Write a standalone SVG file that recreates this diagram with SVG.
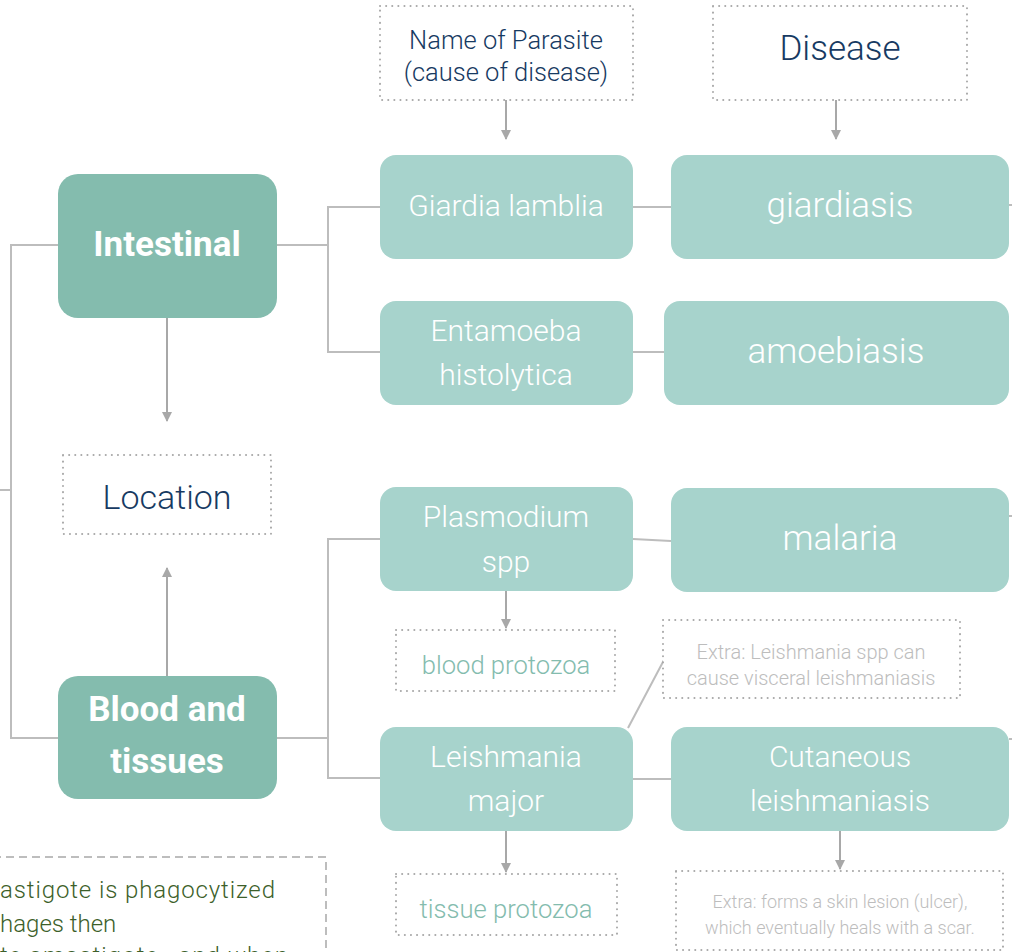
<svg xmlns="http://www.w3.org/2000/svg" width="1012" height="952" viewBox="0 0 1012 952">
<style>
text{font-family:Roboto,"Open Sans","Liberation Sans",sans-serif;text-anchor:middle}
.loc{fill:#84bcae}
.par{fill:#a7d3cc}
.dot{fill:#fff;stroke:#a8a8a8;stroke-width:2;stroke-dasharray:0.1 6;stroke-linecap:round}
.w{fill:#fff;font-weight:300}
.wb{fill:#fff;font-weight:700;font-size:35px}
.navy{fill:#173a62;font-weight:300}
.tq{fill:#84bcae;font-weight:300;font-size:25.6px}
.ex{fill:#bdbdbd;font-weight:300}
.nt{fill:#3d5f2a;font-weight:300;font-size:24px;text-anchor:start}
.ln{fill:none;stroke:#bdbdbd;stroke-width:2}
.ar{fill:none;stroke:#a8a8a8;stroke-width:2}
</style>
<defs>
<marker id="ah" viewBox="0 0 10 10" refX="9" refY="5" markerWidth="5" markerHeight="5" orient="auto"><path d="M0,0 L10,5 L0,10 z" fill="#a8a8a8"/></marker>
</defs>
<g id="connectors">
<path class="ln" d="M58,245 H11 V738 H58 M0,490 H11"/>
<path class="ln" d="M277,245 H328 M380,207 H328 V352 H380"/>
<path class="ln" d="M277,738 H328 M380,539 H328 V778 H380"/>
<path class="ln" d="M633,207 H671 M633,352 H664 M633,539 L671,541 M633,779 H671"/>
<path class="ln" d="M1009,205 H1012 M1009,516 H1012 M1009,739 H1012"/>
<path class="ln" d="M628,728 L664,660"/>
<path class="ar" d="M167,318 V421" marker-end="url(#ah)"/>
<path class="ar" d="M167,676 V568" marker-end="url(#ah)"/>
<path class="ar" d="M506,100 V139" marker-end="url(#ah)"/>
<path class="ar" d="M836,100 V139" marker-end="url(#ah)"/>
<path class="ar" d="M506,591 V628" marker-end="url(#ah)"/>
<path class="ar" d="M506,831 V872" marker-end="url(#ah)"/>
<path class="ar" d="M840,831 V869" marker-end="url(#ah)"/>
</g>
<g id="hdr-parasite"><rect class="dot" x="380" y="6" width="253" height="94"/><text class="navy" x="506" y="49" font-size="25.5">Name of Parasite</text><text class="navy" x="506" y="81" font-size="25.5">(cause of disease)</text></g>
<g id="hdr-disease"><rect class="dot" x="713" y="6" width="254" height="94"/><text class="navy" x="840" y="60" font-size="35">Disease</text></g>
<g id="intestinal"><rect class="loc" x="58" y="174" width="219" height="144" rx="20"/><text class="wb" x="167" y="256">Intestinal</text></g>
<g id="location"><rect class="dot" x="63" y="455" width="208" height="79"/><text class="navy" x="167" y="509" font-size="34">Location</text></g>
<g id="blood"><rect class="loc" x="58" y="676" width="219" height="123" rx="20"/><text class="wb" x="167" y="721">Blood and</text><text class="wb" x="167" y="773">tissues</text></g>
<g id="giardia"><rect class="par" x="380" y="155" width="253" height="104" rx="16"/><text class="w" x="506" y="216" font-size="30">Giardia lamblia</text></g>
<g id="entamoeba"><rect class="par" x="380" y="301" width="253" height="104" rx="16"/><text class="w" x="506" y="341" font-size="30">Entamoeba</text><text class="w" x="506" y="385" font-size="30">histolytica</text></g>
<g id="plasmodium"><rect class="par" x="380" y="487" width="253" height="104" rx="16"/><text class="w" x="506" y="527" font-size="30">Plasmodium</text><text class="w" x="506" y="572" font-size="30">spp</text></g>
<g id="leishmania"><rect class="par" x="380" y="727" width="253" height="104" rx="16"/><text class="w" x="506" y="767" font-size="30">Leishmania</text><text class="w" x="506" y="811" font-size="30">major</text></g>
<g id="giardiasis"><rect class="par" x="671" y="155" width="338" height="104" rx="16"/><text class="w" x="840" y="217" font-size="35">giardiasis</text></g>
<g id="amoebiasis"><rect class="par" x="664" y="301" width="345" height="104" rx="16"/><text class="w" x="836" y="363" font-size="35">amoebiasis</text></g>
<g id="malaria"><rect class="par" x="671" y="488" width="338" height="104" rx="16"/><text class="w" x="840" y="550" font-size="35">malaria</text></g>
<g id="cutaneous"><rect class="par" x="671" y="727" width="338" height="104" rx="16"/><text class="w" x="840" y="767" font-size="30">Cutaneous</text><text class="w" x="840" y="811" font-size="30">leishmaniasis</text></g>
<g id="blood-protozoa"><rect class="dot" x="396" y="630" width="219" height="61"/><text class="tq" x="506" y="674">blood protozoa</text></g>
<g id="tissue-protozoa"><rect class="dot" x="396" y="874" width="221" height="61"/><text class="tq" x="506" y="918">tissue protozoa</text></g>
<g id="extra-visceral"><rect class="dot" x="663" y="620" width="297" height="78"/><text class="ex" x="811" y="659" font-size="20">Extra: Leishmania spp can</text><text class="ex" x="811" y="685" font-size="20">cause visceral leishmaniasis</text></g>
<g id="extra-lesion"><rect class="dot" x="676" y="871" width="327" height="79"/><text class="ex" x="840" y="908" font-size="18">Extra: forms a skin lesion (ulcer),</text><text class="ex" x="840" y="934" font-size="18">which eventually heals with a scar.</text></g>
<g id="note"><rect x="-20" y="857" width="346" height="120" fill="#fff" stroke="#bdbdbd" stroke-width="2" stroke-dasharray="8 5"/>
<text class="nt" x="0" y="898" textLength="275" lengthAdjust="spacing">astigote is phagocytized</text>
<text class="nt" x="0" y="932">hages then</text>
<text class="nt" x="0" y="964" textLength="288" lengthAdjust="spacing">te amastigote , and when</text></g>
</svg>
